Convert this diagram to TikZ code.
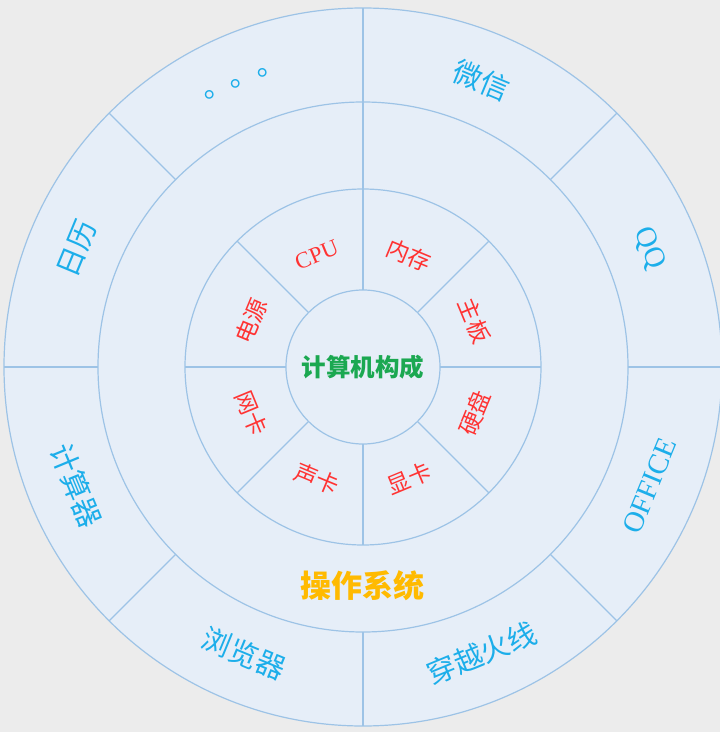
\documentclass[tikz,border=0pt]{standalone}
\usepackage{fontspec}
\setmainfont{Liberation Serif}
\newfontfamily\cjk{Noto Sans CJK SC}
\usetikzlibrary{positioning}

\definecolor{bggray}{HTML}{ECECEC}
\definecolor{ringfill}{HTML}{E6EEF8}
\definecolor{ringline}{HTML}{9DC3E6}
\definecolor{partred}{HTML}{FF3333}
\definecolor{appblue}{HTML}{1CAEEA}
\definecolor{coregreen}{HTML}{1BA851}
\definecolor{osorange}{HTML}{FFBA00}

\newcommand{\zh}[1]{{\cjk #1}}

\begin{document}
\begin{tikzpicture}[
    x=1pt, y=1pt,
    ring/.style={draw=ringline, line width=1.2pt},
    partlabel/.style={text=partred, inner sep=0pt,
                      font=\fontsize{23}{26}\selectfont},
    applabel/.style={text=appblue, inner sep=0pt,
                     font=\fontsize{29}{32}\selectfont},
]

% background and page size
\fill[bggray] (-363,-365) rectangle (357,367);
\useasboundingbox (-363,-365) rectangle (357,367);

% rings
\draw[ring, fill=ringfill] (0,0) circle (359);
\draw[ring] (0,0) circle (265);
\draw[ring] (0,0) circle (178);
\draw[ring] (0,0) circle (77);

% sector borders
\foreach \a in {0,45,...,315} {
    \draw[ring] (\a:77) -- (\a:178);
    \draw[ring] (\a:265) -- (\a:359);
}
\draw[ring] (90:178) -- (90:265);

% hardware parts
\foreach \a/\name/\txt in {112.5/cpu/CPU, 67.5/mem/\zh{内存}, 22.5/board/\zh{主板},
        -22.5/disk/\zh{硬盘}, -67.5/gpu/\zh{显卡}, -112.5/sound/\zh{声卡},
        -157.5/net/\zh{网卡}, 157.5/power/\zh{电源}} {
    \pgfmathsetmacro{\rot}{\a>0 ? \a-90 : \a+90}
    \node[partlabel, rotate=\rot] (\name) at (\a:121) {\txt};
}

% software
\foreach \a/\name/\txt in {112.5/more/\zh{。。。}, 67.5/wechat/\zh{微信}, 22.5/qq/QQ,
        -22.5/office/OFFICE, -67.5/cf/\zh{穿越火线}, -112.5/browser/\zh{浏览器},
        -157.5/calc/\zh{计算器}, 157.5/calendar/\zh{日历}} {
    \pgfmathsetmacro{\rot}{\a>0 ? \a-90 : \a+90}
    \node[applabel, rotate=\rot] (\name) at (\a:310) {\txt};
}

\node[text=osorange, font=\cjk\bfseries\fontsize{31}{34}\selectfont] (os) at (0,-219) {操作系统};
\node[text=coregreen, font=\cjk\bfseries\fontsize{24.5}{28}\selectfont] (core) at (0,0) {计算机构成};

\end{tikzpicture}
\end{document}
